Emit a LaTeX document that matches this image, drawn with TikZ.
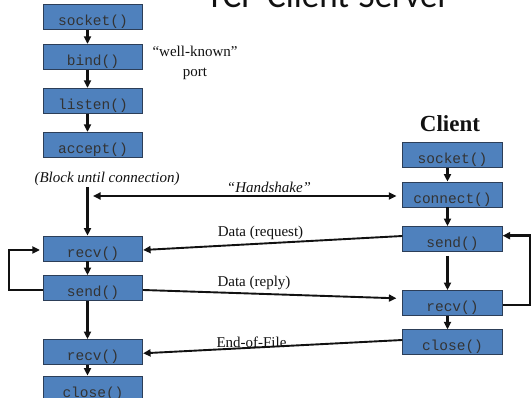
\documentclass[tikz,border=0pt]{standalone}
\usepackage{fontspec}
\setmainfont{Liberation Serif}
\newfontfamily\titlefont{Carlito}
\newfontfamily\codefont{Liberation Mono}
\usetikzlibrary{arrows.meta}
\definecolor{boxfill}{HTML}{4F81BD}
\definecolor{boxedge}{HTML}{2C3E58}
\definecolor{boxtext}{HTML}{333333}
\definecolor{ink}{HTML}{111111}
\begin{document}
\begin{tikzpicture}[x=1pt,y=-1pt,
  callbox/.style={draw=boxedge, fill=boxfill, line width=0.8pt,
    minimum width=99.4pt, minimum height=25pt, inner sep=0pt,
    text height=18pt, text depth=0.6pt,
    font=\codefont\fontsize{14.5pt}{16pt}\selectfont, text=boxtext},
  tip/.style={-{Triangle[length=7.5pt,width=7pt]}},
  flow/.style={tip, line width=2.1pt, draw=ink},
  loopline/.style={tip, line width=2.8pt, draw=ink},
  msg/.style={tip, line width=1.9pt, draw=ink},
  lbl/.style={font=\fontsize{15pt}{18pt}\selectfont, text=ink, inner sep=0pt},
  ilbl/.style={lbl, font=\fontsize{15pt}{18pt}\selectfont\itshape}]
\useasboundingbox (0,0) rectangle (531,398);
\clip (0,0) rectangle (531,398);

% title
\node[anchor=base, inner sep=0pt, text=ink,
      font=\titlefont\fontsize{35pt}{40pt}\selectfont] (title) at (328,7.3) {TCP Client-Server};

% server column
\node[callbox] (ssock)   at (93,17)    {socket()};
\node[callbox] (sbind)   at (93,56.8)  {bind()};
\node[callbox] (slisten) at (93,100.8) {listen()};
\node[callbox] (saccept) at (93,144.8) {accept()};
\node[callbox] (srecv)   at (93,248.5) {recv()};
\node[callbox] (ssend)   at (93,288)   {send()};
\node[callbox] (srecvb)  at (93,352)   {recv()};
\node[callbox] (sclose)  at (93,388.5) {close()};

% client column
\node[font=\fontsize{23pt}{26pt}\selectfont\bfseries, text=ink, inner sep=0pt] (client) at (450,123.5) {Client};
\node[callbox] (csock)  at (452.5,155)   {socket()};
\node[callbox] (cconn)  at (452.5,194.5) {connect()};
\node[callbox] (csend)  at (452.5,239)   {send()};
\node[callbox] (crecv)  at (452.5,303)   {recv()};
\node[callbox] (cclose) at (452.5,342.3) {close()};

% notes
\node[lbl, align=center] (port) at (195,62.5) {``well-known''\\[2pt]port};
\node[ilbl] (block) at (107,179) {(Block until connection)};
\node[ilbl] (hslbl) at (269,187.5) {``Handshake''};
\node[lbl] (reqlbl) at (260.5,233) {Data (request)};
\node[lbl] (replbl) at (254,283) {Data (reply)};
\node[lbl] (eoflbl) at (251.5,342.4) {End-of-File};

% server sequence
\draw[flow] ([xshift=-5.5pt]ssock.south)   -- ([xshift=-5.5pt]sbind.north);
\draw[flow] ([xshift=-5.5pt]sbind.south)   -- ([xshift=-5.5pt]slisten.north);
\draw[flow] ([xshift=-5.5pt]slisten.south) -- ([xshift=-5.5pt]saccept.north);
\coordinate (wait) at (87.5,187);
\draw[flow] (wait) -- ([xshift=-5.5pt]srecv.north);
\draw[flow] ([xshift=-5.5pt]srecv.south)   -- ([xshift=-5.5pt]ssend.north);
\draw[flow] ([xshift=-5.5pt]ssend.south)   -- ([xshift=-5.5pt]srecvb.north);
\draw[flow] ([xshift=-5.5pt]srecvb.south)  -- ([xshift=-5.5pt]sclose.north);

% client sequence
\draw[flow] ([xshift=-5pt]csock.south) -- ([xshift=-5pt]cconn.north);
\draw[flow] ([xshift=-5pt]cconn.south) -- ([xshift=-5pt]csend.north);
\draw[flow] ([xshift=-5pt,yshift=-4pt]csend.south) -- ([xshift=-5pt]crecv.north);
\draw[flow] ([xshift=-5pt]crecv.south) -- ([xshift=-5pt]cclose.north);

% handshake
\coordinate (hs) at (93,196);
\draw[{Triangle[length=7.5pt,width=7pt]}-{Triangle[length=7.5pt,width=7pt]}, line width=1.7pt, draw=ink]
  (hs) -- ([xshift=-6pt]hs -| cconn.west);

% data exchange
\draw[msg] ([yshift=3pt]csend.west) -- ([yshift=-1.5pt]srecv.east);
\draw[msg] ([yshift=-2pt]ssend.east) -- ([xshift=-6pt,yshift=4.7pt]crecv.west);
\draw[msg] ([yshift=2.3pt]cclose.west) -- ([yshift=-1.3pt]srecvb.east);

% loops
\draw[loopline] ([yshift=-2pt]ssend.west) -- ++(-34,0) |- ([xshift=-3pt,yshift=-1.5pt]srecv.west);
\draw[loopline] ([yshift=-2pt]crecv.east) -- ++(28,0) |- ([yshift=3.3pt]csend.east);
\end{tikzpicture}
\end{document}
